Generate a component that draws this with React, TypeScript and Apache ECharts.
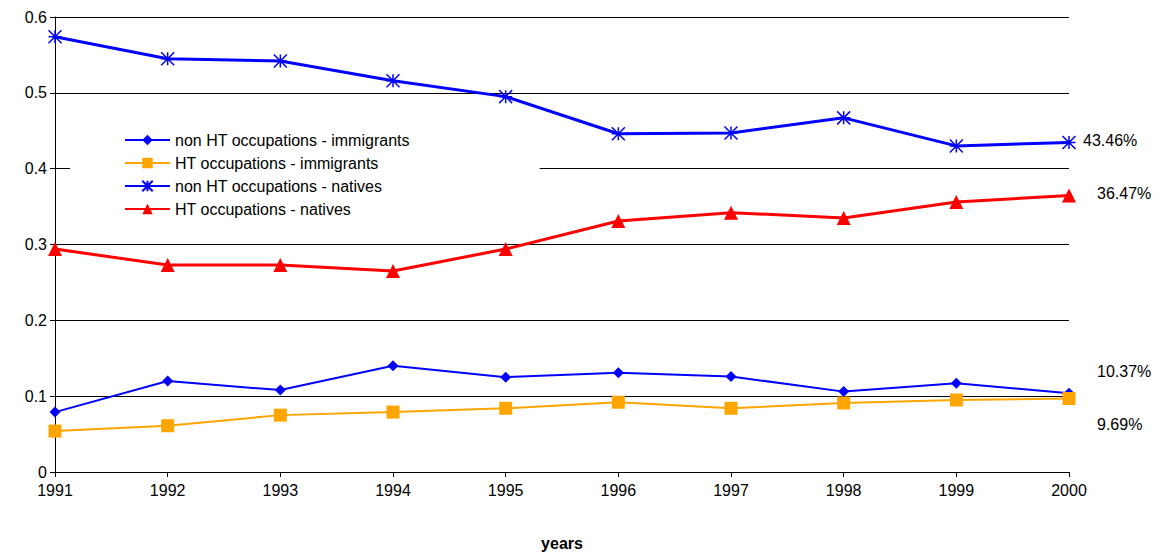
import React, { useEffect, useRef } from "react";
import * as echarts from "echarts";

const years = ["1991", "1992", "1993", "1994", "1995", "1996", "1997", "1998", "1999", "2000"];
const nonHtImmigrants = [0.079, 0.12, 0.108, 0.14, 0.125, 0.131, 0.126, 0.106, 0.117, 0.1037];
const htImmigrants = [0.054, 0.061, 0.075, 0.079, 0.084, 0.092, 0.084, 0.091, 0.095, 0.0969];
const nonHtNatives = [0.574, 0.545, 0.542, 0.516, 0.495, 0.446, 0.447, 0.467, 0.43, 0.4346];
const htNatives = [0.294, 0.273, 0.273, 0.265, 0.294, 0.331, 0.342, 0.335, 0.356, 0.3647];
const endLabels = ["10.37%", "9.69%", "43.46%", "36.47%"];

const star = "path://M0,0L10,10M10,0L0,10M5,0L5,10M0,5L10,5";
const font = "Liberation Sans, Arial, sans-serif";

const App: React.FC = () => {
  const chartRef = useRef<HTMLDivElement>(null);

  useEffect(() => {
    const chart = echarts.init(chartRef.current!, null, { renderer: "svg" });
    const mk = (name: string, data: number[], color: string, symbol: string, size: number, label: string, offset: number[], width: number) => ({
      name,
      type: "line",
      data,
      symbol,
      symbolSize: size,
      lineStyle: { color, width },
      itemStyle: symbol === star ? { color: "none", borderColor: color, borderWidth: 1.5 } : { color },
      endLabel: { show: true, formatter: () => label, offset, color: "#000", fontSize: 16, fontFamily: font },
    });
    chart.setOption({
      animation: false,
      textStyle: { fontFamily: font },
      grid: { left: 47, right: 94, top: 9, bottom: 83, outerBoundsMode: "none", containLabel: false },
      legend: {
        orient: "vertical",
        left: 62,
        top: 118,
        itemGap: 7,
        itemWidth: 45,
        itemHeight: 13,
        backgroundColor: "#fff",
        padding: [6, 130, 6, 54],
        textStyle: { fontSize: 16, color: "#000" },
      },
      xAxis: {
        type: "category",
        data: years,
        boundaryGap: false,
        name: "years",
        nameLocation: "middle",
        nameGap: 63,
        nameTextStyle: { fontWeight: "bold", fontSize: 16, color: "#000" },
        axisLine: { lineStyle: { color: "#000" } },
        axisTick: { alignWithLabel: true, lineStyle: { color: "#000" } },
        axisLabel: { color: "#000", fontSize: 16, margin: 10 },
      },
      yAxis: {
        type: "value",
        min: 0,
        max: 0.6,
        interval: 0.1,
        axisLine: { show: true, lineStyle: { color: "#000" } },
        axisTick: { show: true, lineStyle: { color: "#000" } },
        axisLabel: { color: "#000", fontSize: 16, formatter: (v: number) => (v === 0 ? "0" : v.toFixed(1)) },
        splitLine: { lineStyle: { color: "#000" } },
      },
      series: [
        mk("non HT occupations - immigrants", nonHtImmigrants, "#0000ff", "diamond", 11, endLabels[0], [20, -22], 2),
        mk("HT occupations - immigrants", htImmigrants, "#ffa500", "rect", 13, endLabels[1], [20, 26], 2),
        mk("non HT occupations - natives", nonHtNatives, "#0000ff", star, 13, endLabels[2], [6, -2], 3),
        mk("HT occupations - natives", htNatives, "#ff0000", "triangle", 14, endLabels[3], [20, -2], 3),
      ],
    });
    return () => chart.dispose();
  }, []);

  return <div ref={chartRef} style={{ width: 1155, height: 547 }} />;
};

export default App;
